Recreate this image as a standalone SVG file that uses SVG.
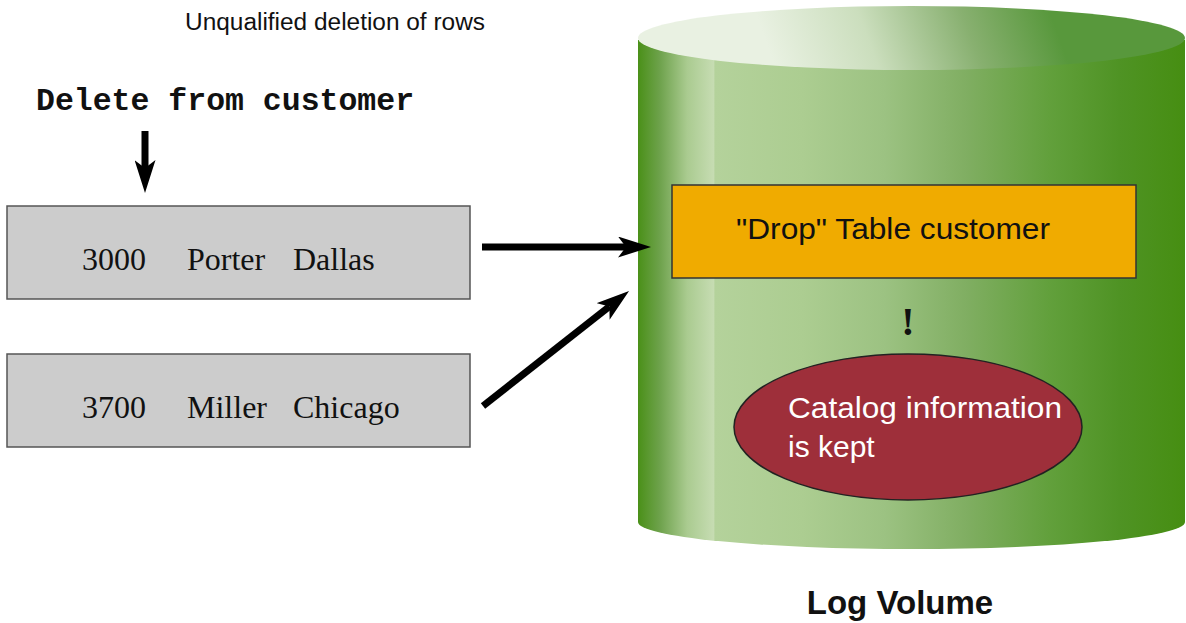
<svg xmlns="http://www.w3.org/2000/svg" width="1186" height="623" viewBox="0 0 1186 623">
  <defs>
    <linearGradient id="bodyGrad" x1="638" y1="0" x2="1185" y2="0" gradientUnits="userSpaceOnUse">
      <stop offset="0" stop-color="#4a9018"/>
      <stop offset="0.04" stop-color="#6ea24c"/>
      <stop offset="0.09" stop-color="#aacb90"/>
      <stop offset="0.138" stop-color="#c6dcb2"/>
      <stop offset="0.141" stop-color="#b4d29b"/>
      <stop offset="0.30" stop-color="#accd91"/>
      <stop offset="0.45" stop-color="#9cc282"/>
      <stop offset="0.60" stop-color="#80ae62"/>
      <stop offset="0.75" stop-color="#62a03c"/>
      <stop offset="0.88" stop-color="#4f9324"/>
      <stop offset="1" stop-color="#468e12"/>
    </linearGradient>
    <linearGradient id="topGrad" x1="780" y1="80" x2="1040" y2="-15" gradientUnits="userSpaceOnUse">
      <stop offset="0" stop-color="#e9f1e2"/>
      <stop offset="0.35" stop-color="#cbdebd"/>
      <stop offset="0.7" stop-color="#88b070"/>
      <stop offset="1" stop-color="#58983c"/>
    </linearGradient>
    <marker id="arrow" viewBox="0 0 33 21" refX="8" refY="10.5" markerWidth="33" markerHeight="21" orient="auto" markerUnits="userSpaceOnUse">
      <path d="M0,0 L33,10.5 L0,21 L8,10.5 Z" fill="#000"/>
    </marker>
    <style>
      .row { fill: #cccccc; stroke: #555555; stroke-width: 1.5; }
      .rowtxt { font-family: "Liberation Serif", "Times New Roman", serif; font-size: 32px; fill: #111; }
      .sans { font-family: "Liberation Sans", Arial, sans-serif; }
      .conn { stroke: #000; stroke-width: 7; fill: none; marker-end: url(#arrow); }
    </style>
  </defs>

  <rect width="1186" height="623" fill="#ffffff"/>

  <text id="title" class="sans" x="185" y="30" font-size="23" textLength="300" lengthAdjust="spacingAndGlyphs" fill="#111">Unqualified deletion of rows</text>

  <g id="cmd">
    <text x="36" y="110" font-family="'Liberation Mono', 'Courier New', monospace" font-weight="bold" font-size="31.5" fill="#111">Delete from customer</text>
  </g>

  <g id="row1">
    <rect class="row" x="7" y="206" width="463" height="93"/>
    <text class="rowtxt" x="82" y="270">3000</text>
    <text class="rowtxt" x="187" y="270">Porter</text>
    <text class="rowtxt" x="293" y="270">Dallas</text>
  </g>

  <g id="row2">
    <rect class="row" x="7" y="354" width="463" height="93"/>
    <text class="rowtxt" x="82" y="418">3700</text>
    <text class="rowtxt" x="187" y="418">Miller</text>
    <text class="rowtxt" x="293" y="418">Chicago</text>
  </g>

  <g id="logvolume">
    <path d="M638,40 L638,522 A273.5,27 0 0 0 1185,522 L1185,40 Z" fill="url(#bodyGrad)"/>
    <ellipse cx="911.5" cy="38" rx="273.5" ry="32" fill="url(#topGrad)"/>
    <text class="sans" x="900" y="614" font-size="33" font-weight="bold" text-anchor="middle" fill="#111">Log Volume</text>
  </g>

  <g id="drop">
    <rect x="672" y="185" width="464" height="93" fill="#f0ab00" stroke="#333" stroke-width="1.5"/>
    <text class="sans" x="736" y="239" font-size="30" textLength="314" lengthAdjust="spacingAndGlyphs" fill="#111">"Drop" Table customer</text>
  </g>

  <g id="excl">
    <text x="908" y="335" font-family="'Liberation Serif', 'Times New Roman', serif" font-weight="bold" font-size="40" text-anchor="middle" fill="#111">!</text>
  </g>

  <g id="catalog">
    <ellipse cx="908" cy="427" rx="174" ry="73" fill="#9e2f3a" stroke="#222" stroke-width="1.5"/>
    <text class="sans" x="788" y="418" font-size="30" textLength="274" lengthAdjust="spacingAndGlyphs" fill="#ffffff">Catalog information</text>
    <text class="sans" x="788" y="457" font-size="30" fill="#ffffff">is kept</text>
  </g>

  <g id="connectors">
    <line class="conn" x1="145" y1="131" x2="145" y2="168"/>
    <line class="conn" x1="482" y1="247" x2="626" y2="247"/>
    <line class="conn" x1="483" y1="406" x2="609.4" y2="306.5"/>
  </g>
</svg>
